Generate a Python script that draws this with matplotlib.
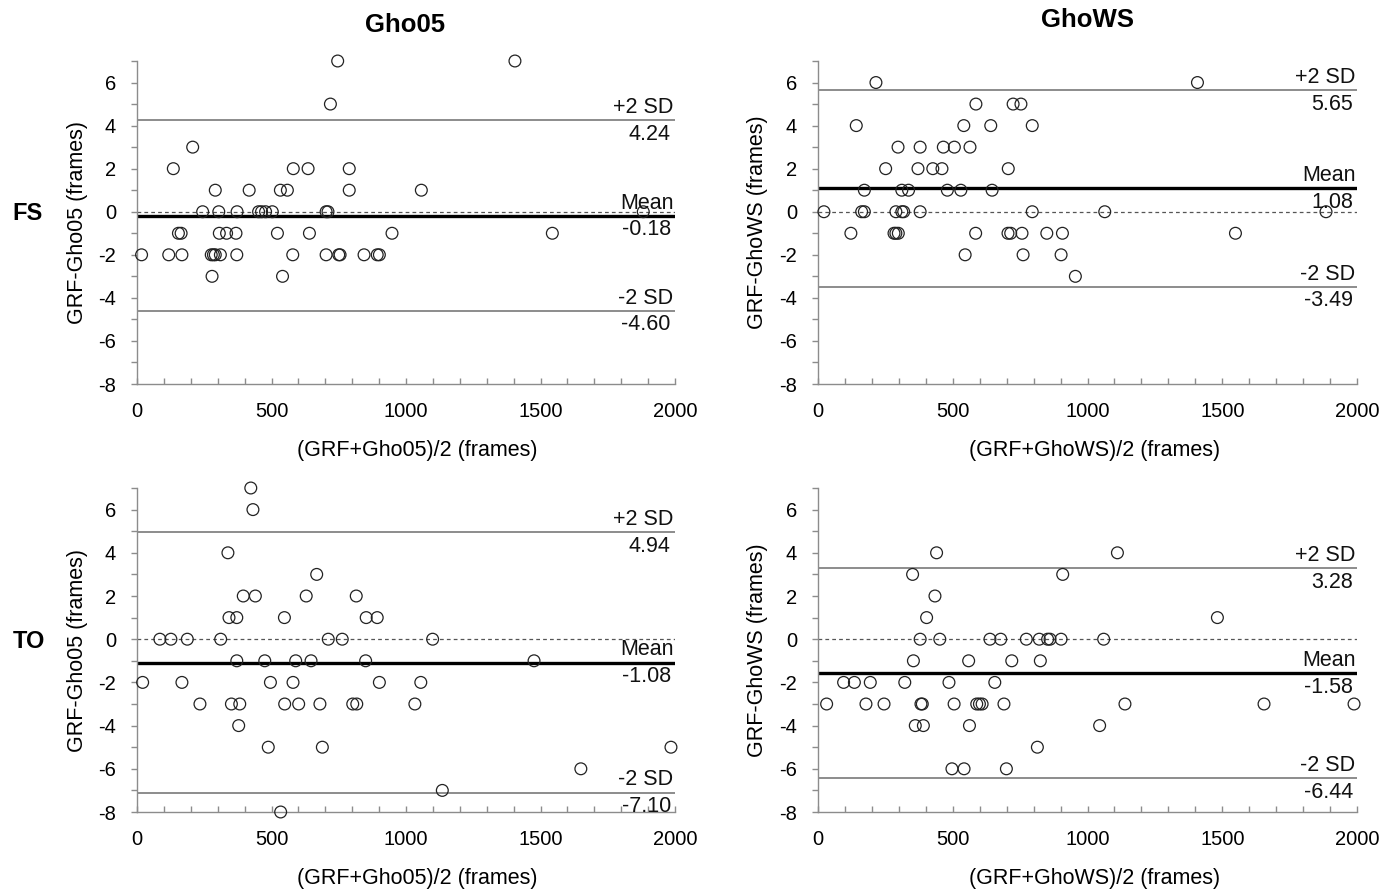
import matplotlib
matplotlib.use("Agg")
import matplotlib.pyplot as plt
from matplotlib.ticker import MultipleLocator

plt.rcParams['font.family'] = ['Liberation Sans', 'DejaVu Sans']
plt.rcParams['axes.unicode_minus'] = False

# ---------------- data ----------------
# FS, Gho05
fs_gho05_x = [746, 1405, 719, 207, 135, 581, 636, 789,
              291, 417, 533, 559, 789, 1057,
              244, 304, 372, 452, 463, 478, 503, 703, 710, 1882,
              154, 164, 306, 333, 368, 522, 641, 948, 1544,
              17, 118, 167, 276, 284, 291, 310, 371, 579, 703, 750, 755, 844, 893, 901,
              279, 541]
fs_gho05_y = [7, 7, 5, 3, 2, 2, 2, 2,
              1, 1, 1, 1, 1, 1,
              0, 0, 0, 0, 0, 0, 0, 0, 0, 0,
              -1, -1, -1, -1, -1, -1, -1, -1, -1,
              -2, -2, -2, -2, -2, -2, -2, -2, -2, -2, -2, -2, -2, -2, -2,
              -3, -3]

# FS, GhoWS
fs_ghows_x = [215, 1408, 586, 724, 753, 142, 541, 641, 795,
              297, 379, 465, 506, 564, 251, 371, 426, 460, 706,
              172, 311, 336, 480, 530, 646,
              22, 162, 172, 289, 311, 318, 379, 795, 1064, 1885,
              122, 282, 289, 298, 585, 705, 715, 757, 849, 907, 1549,
              546, 761, 902, 955]
fs_ghows_y = [6, 6, 5, 5, 5, 4, 4, 4, 4,
              3, 3, 3, 3, 3, 2, 2, 2, 2, 2,
              1, 1, 1, 1, 1, 1,
              0, 0, 0, 0, 0, 0, 0, 0, 0, 0,
              -1, -1, -1, -1, -1, -1, -1, -1, -1, -1, -1,
              -2, -2, -2, -3]

# TO, Gho05
to_gho05_x = [423, 431, 338, 668, 395, 440, 629, 815,
              342, 371, 548, 852, 893,
              85, 126, 187, 311, 711, 763, 1099,
              371, 475, 590, 647, 850, 1476,
              21, 167, 496, 580, 901, 1055,
              234, 351, 382, 549, 601, 680, 802, 817, 1033,
              378, 488, 689, 1985, 1650, 1135, 534]
to_gho05_y = [7, 6, 4, 3, 2, 2, 2, 2,
              1, 1, 1, 1, 1,
              0, 0, 0, 0, 0, 0, 0,
              -1, -1, -1, -1, -1, -1,
              -2, -2, -2, -2, -2, -2,
              -3, -3, -3, -3, -3, -3, -3, -3, -3,
              -4, -5, -5, -5, -6, -7, -8]

# TO, GhoWS
to_ghows_x = [440, 1111, 351, 908, 434, 403, 1482,
              379, 452, 638, 678, 773, 821, 852, 861, 902, 1060,
              354, 559, 719, 825,
              95, 135, 194, 322, 486, 656,
              32, 178, 245, 382, 387, 505, 589, 599, 609, 690, 1139, 1655, 1989,
              361, 391, 562, 1045, 814, 497, 542, 699]
to_ghows_y = [4, 4, 3, 3, 2, 1, 1,
              0, 0, 0, 0, 0, 0, 0, 0, 0, 0,
              -1, -1, -1, -1,
              -2, -2, -2, -2, -2, -2,
              -3, -3, -3, -3, -3, -3, -3, -3, -3, -3, -3, -3, -3,
              -4, -4, -4, -4, -5, -6, -6, -6]

# limits of agreement: (+2 SD, mean, -2 SD)
fs_gho05_stats = (4.24, -0.18, -4.60)
fs_ghows_stats = (5.65, 1.08, -3.49)
to_gho05_stats = (4.94, -1.08, -7.10)
to_ghows_stats = (3.28, -1.58, -6.44)

col_titles = ['Gho05', 'GhoWS']
row_titles = ['FS', 'TO']
y_labels = ['GRF-Gho05 (frames)', 'GRF-GhoWS (frames)']
x_labels = ['(GRF+Gho05)/2 (frames)', '(GRF+GhoWS)/2 (frames)']

# ---------------- figure ----------------
W, H = 1397, 890
fig = plt.figure(figsize=(W / 100, H / 100), dpi=100)

def px_axes(x0, x1, ytop, ybot):
    return fig.add_axes([x0 / W, 1 - ybot / H, (x1 - x0) / W, (ybot - ytop) / H])

panels = [
    (px_axes(137, 675, 61, 384), fs_gho05_x, fs_gho05_y, fs_gho05_stats, 0),
    (px_axes(818, 1357, 61, 384), fs_ghows_x, fs_ghows_y, fs_ghows_stats, 1),
    (px_axes(137, 675, 488, 812), to_gho05_x, to_gho05_y, to_gho05_stats, 0),
    (px_axes(818, 1357, 488, 812), to_ghows_x, to_ghows_y, to_ghows_stats, 1),
]

spine_col = '#8c8c8c'
fs_tick = 14.5
fs_lab = 15.5
xlabel_xpos = [0.52, 0.513]

for ax, xs, ys, stats, col in panels:
    up, mean, lo = stats
    ax.set_xlim(0, 2000)
    ax.set_ylim(-8, 7)
    ax.axhline(0, color='#555555', lw=0.9, ls=(0, (3, 2.5)), zorder=1)
    ax.axhline(up, color='#6e6e6e', lw=1.1, zorder=1)
    ax.axhline(lo, color='#6e6e6e', lw=1.1, zorder=1)
    ax.axhline(mean, color='black', lw=2.4, zorder=2)
    ax.scatter(xs, ys, s=72, facecolors='none', edgecolors='#222222',
               linewidths=0.9, zorder=3, clip_on=False)

    for txt_a, txt_b, yv in [('+2 SD', f'{up:.2f}', up),
                             ('Mean', f'{mean:.2f}', mean),
                             ('-2 SD', f'{lo:.2f}', lo)]:
        ax.annotate(txt_a, xy=(1.0, yv), xycoords=('axes fraction', 'data'),
                    xytext=(-1.0, 1.5), textcoords='offset points',
                    ha='right', va='bottom', fontsize=fs_lab, color='#111111')
        ax.annotate(txt_b, xy=(1.0, yv), xycoords=('axes fraction', 'data'),
                    xytext=(-3, -2.5), textcoords='offset points',
                    ha='right', va='top', fontsize=fs_lab, color='#111111')

    for s in ['top', 'right']:
        ax.spines[s].set_visible(False)
    for s in ['left', 'bottom']:
        ax.spines[s].set_color(spine_col)
        ax.spines[s].set_linewidth(1.0)

    ax.set_yticks([-8, -6, -4, -2, 0, 2, 4, 6])
    ax.yaxis.set_minor_locator(MultipleLocator(1))
    ax.set_xticks([0, 500, 1000, 1500, 2000])
    ax.xaxis.set_minor_locator(MultipleLocator(100))
    ax.tick_params(axis='y', which='both', direction='out', length=4,
                   width=1.0, color=spine_col, pad=11, labelsize=fs_tick)
    ax.tick_params(axis='x', which='both', direction='in', length=4,
                   width=1.0, color=spine_col, pad=13, labelsize=fs_tick)

    ax.set_ylabel(y_labels[col], fontsize=fs_lab)
    ax.set_xlabel(x_labels[col], fontsize=fs_lab)
    ax.yaxis.set_label_coords(-0.092, 0.5)
    ax.xaxis.set_label_coords(xlabel_xpos[col], -0.172)

fig.text(405 / W, 1 - 25 / H, col_titles[0], ha='center', va='center',
         fontsize=18.5, fontweight='bold')
fig.text(1088 / W, 1 - 20 / H, col_titles[1], ha='center', va='center',
         fontsize=18.5, fontweight='bold')
fig.text(28 / W, 1 - 213 / H, row_titles[0], ha='center', va='center',
         fontsize=17, fontweight='bold')
fig.text(29 / W, 1 - 641 / H, row_titles[1], ha='center', va='center',
         fontsize=17, fontweight='bold')

fig.savefig('out.png', dpi=100, facecolor='white')
